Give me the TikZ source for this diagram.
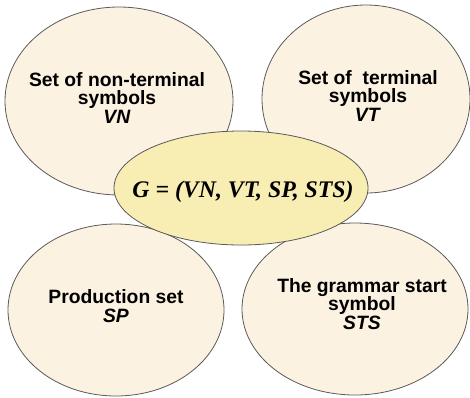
\documentclass[tikz,border=0pt]{standalone}
\usepackage{fontspec}
\setmainfont{Liberation Serif}
\setsansfont{Liberation Sans}
\usetikzlibrary{shapes.geometric}

\definecolor{cream}{HTML}{FCF2E1}
\definecolor{paleyellow}{HTML}{F8EDB3}
\definecolor{rim}{HTML}{5A5A5A}

\tikzset{
  blob/.style={ellipse, draw=rim, line width=0.8pt, fill=cream, inner sep=0pt},
  hub/.style={blob, fill=paleyellow},
  caption/.style={align=center, inner sep=0pt,
    font=\sffamily\bfseries\fontsize{19.3}{18.8}\selectfont},
  tuple/.style={inner sep=0pt, font=\rmfamily\bfseries\itshape\fontsize{23.8}{26}\selectfont}
}

\begin{document}
\begin{tikzpicture}[x=1pt, y=-1pt]
    \useasboundingbox (0,0) rectangle (470,397);

    % Four outer sets
    \node[blob, minimum width=228pt, minimum height=188pt] (vn) at (119,101) {};
    \node[blob, minimum width=208pt, minimum height=188pt] (vt) at (366,99) {};
    \node[blob, minimum width=216pt, minimum height=172pt] (sp) at (116,310) {};
    \node[blob, minimum width=226pt, minimum height=172pt] (sts) at (355,309) {};

    \node[caption] (vn text) at (117,98) {Set of non-terminal\\symbols\\\textit{VN}};
    \node[caption] (vt text) at (368,96) {Set of\ \ terminal\\symbols\\\textit{VT}};
    \node[caption] (sp text) at (116,306) {Production set\\\textit{SP}};
    \node[caption] (sts text) at (362,304) {The grammar start\\symbol\\\textit{STS}};

    % Grammar tuple in the middle
    \node[hub, minimum width=254pt, minimum height=114pt] (g) at (241,188) {};
    \node[tuple] (g text) at (243,192) {G = (VN, VT, SP, STS)};
\end{tikzpicture}
\end{document}
